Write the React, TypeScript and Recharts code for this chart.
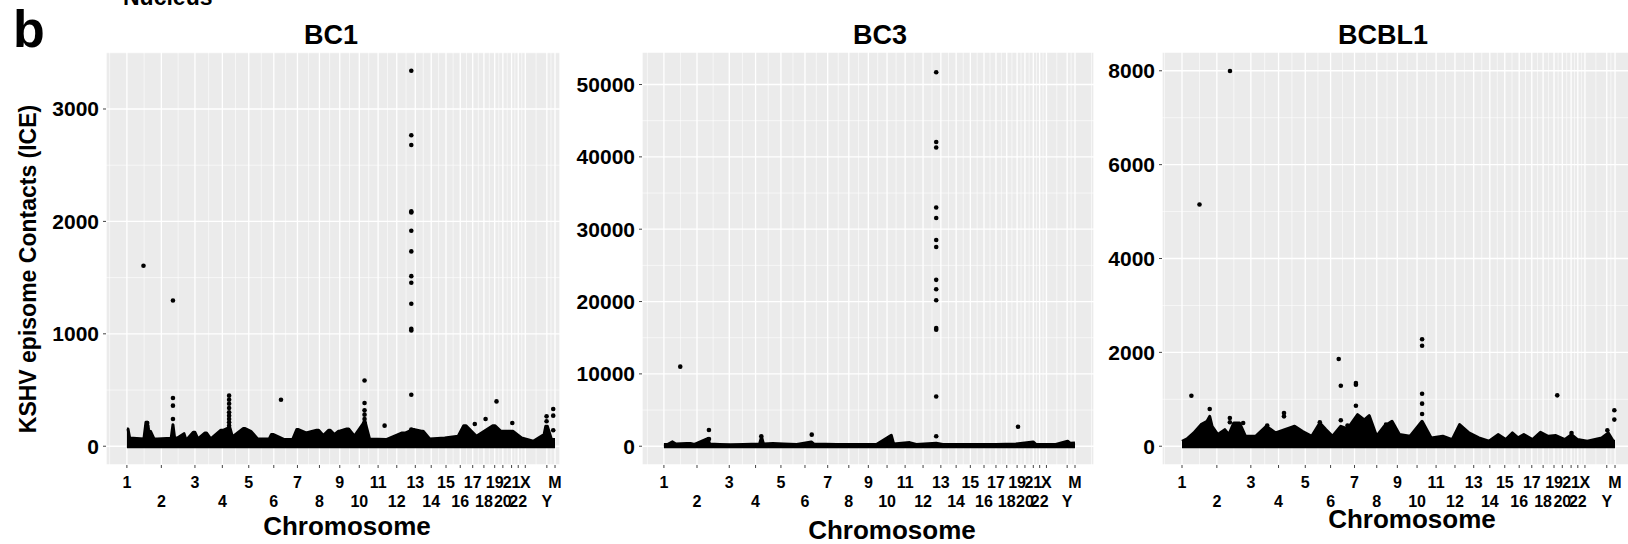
import React from "react";
import { ComposedChart, Area, Scatter, XAxis, YAxis, CartesianGrid } from "recharts";

// KSHV episome contacts along the human genome — three cell lines (BC1, BC3, BCBL1).

const FONT = '"Liberation Sans", Arial, Helvetica, sans-serif';

const chromNames = ["1", "2", "3", "4", "5", "6", "7", "8", "9", "10", "11", "12", "13", "14", "15", "16", "17", "18", "19", "20", "21", "22", "X", "Y", "M"];
// chromosome start, cumulative Mb (hg19)
const chromStarts = [0, 249, 492, 690, 881, 1062, 1233, 1392, 1539, 1680, 1816, 1951, 2085, 2200, 2307, 2410, 2500, 2581, 2659, 2718, 2781, 2829, 2880, 3036, 3095];

// BC1: top of the dense band of contacts, and the points standing out of it
const bc1BandPos = [0, 8, 20, 123, 138, 147, 160, 171, 196, 210, 220, 320, 333, 345, 365, 413, 425, 437, 480, 492, 510, 522, 565, 575, 606, 680, 695, 735, 745, 763, 840, 855, 896, 945, 1029, 1045, 1060, 1138, 1198, 1228, 1240, 1295, 1372, 1386, 1420, 1458, 1470, 1500, 1528, 1538, 1590, 1603, 1645, 1712, 1724, 1754, 1875, 1990, 2015, 2068, 2080, 2130, 2142, 2189, 2298, 2395, 2435, 2450, 2527, 2645, 2660, 2704, 2775, 2790, 2853, 2938, 3016, 3028, 3040, 3070, 3095];
const bc1BandTop = [154, 154, 74, 65, 213, 213, 118, 133, 65, 65, 65, 70, 192, 74, 74, 112, 65, 65, 124, 124, 74, 74, 118, 118, 65, 142, 142, 163, 163, 83, 157, 157, 133, 65, 65, 104, 104, 59, 59, 148, 148, 118, 142, 142, 95, 142, 142, 104, 133, 133, 154, 154, 89, 207, 207, 65, 59, 118, 118, 148, 148, 133, 133, 65, 74, 89, 183, 183, 89, 183, 183, 133, 133, 133, 74, 44, 104, 177, 177, 59, 59];
const bc1DotPos = [120, 147, 147, 147, 333, 333, 333, 333, 739, 739, 739, 739, 739, 739, 739, 739, 739, 1114, 1718, 1718, 1718, 1718, 1718, 1718, 1718, 1863, 2056, 2056, 2056, 2056, 2056, 2056, 2056, 2056, 2056, 2056, 2056, 2056, 2056, 2056, 2515, 2593, 2672, 2786, 3034, 3034, 3082, 3082, 3082];
const bc1DotVal = [1605, 207, 180, 160, 1297, 429, 361, 242, 450, 414, 378, 340, 302, 272, 242, 213, 183, 414, 585, 384, 319, 281, 242, 213, 183, 183, 3340, 2766, 2680, 2089, 2080, 1917, 1733, 1513, 1454, 1267, 1045, 1030, 458, 148, 198, 242, 399, 207, 266, 222, 331, 272, 142];

// BC3
const bc3BandPos = [0, 30, 65, 90, 170, 200, 230, 330, 345, 420, 500, 600, 720, 735, 750, 820, 900, 1000, 1110, 1130, 1300, 1450, 1600, 1712, 1730, 1850, 1900, 2050, 2100, 2300, 2500, 2650, 2780, 2800, 2950, 3040, 3060, 3095];
const bc3BandTop = [250, 250, 600, 300, 370, 370, 250, 1050, 300, 250, 200, 250, 300, 1290, 300, 370, 300, 250, 600, 300, 250, 250, 250, 1500, 300, 500, 250, 400, 250, 250, 250, 300, 600, 250, 250, 690, 400, 460];
const bc3DotPos = [123, 339, 339, 733, 1113, 2050, 2050, 2050, 2050, 2050, 2050, 2050, 2050, 2050, 2050, 2050, 2050, 2050, 2050, 2666];
const bc3DotVal = [11000, 2250, 1000, 1380, 1600, 51700, 42050, 41300, 33000, 31550, 28500, 27550, 23000, 21700, 20180, 16330, 16100, 6880, 1380, 2700];

// BCBL1
const bcbl1BandPos = [0, 36, 84, 136, 179, 198, 215, 256, 306, 335, 370, 411, 454, 526, 602, 669, 734, 770, 805, 860, 927, 985, 1028, 1076, 1135, 1183, 1255, 1303, 1338, 1391, 1446, 1501, 1554, 1630, 1716, 1781, 1864, 1931, 1984, 2051, 2122, 2194, 2259, 2314, 2361, 2402, 2443, 2505, 2562, 2617, 2672, 2737, 2784, 2827, 2897, 3000, 3047, 3083, 3095];
const bcbl1BandTop = [106, 156, 283, 460, 531, 637, 425, 248, 354, 248, 496, 496, 212, 212, 425, 283, 354, 390, 425, 319, 212, 496, 354, 212, 425, 368, 673, 560, 652, 212, 425, 531, 248, 212, 531, 177, 212, 142, 460, 283, 177, 106, 248, 142, 283, 177, 248, 142, 298, 212, 227, 142, 248, 142, 106, 177, 283, 106, 106];
const bcbl1DotPos = [67, 125, 198, 343, 342, 342, 437, 609, 729, 729, 985, 1120, 1135, 1135, 1183, 1243, 1243, 1243, 1458, 1716, 1716, 1716, 1716, 1716, 2682, 2784, 3040, 3090, 3090];
const bcbl1DotVal = [1077, 5150, 793, 7995, 602, 510, 496, 439, 708, 637, 510, 1860, 1289, 553, 439, 1345, 1310, 864, 460, 2280, 2140, 1119, 907, 687, 1084, 283, 340, 765, 567];

const bc1Ticks = [0, 1000, 2000, 3000];
const bc3Ticks = [0, 10000, 20000, 30000, 40000, 50000];
const bcbl1Ticks = [0, 2000, 4000, 6000, 8000];

const zip = (pos: number[], val: number[]) => pos.map((p, i) => ({ pos: p, value: val[i] }));

// ggplot-style minor breaks: halfway between majors, plus one on each side
const minorOf = (b: number[], lo: number, hi: number) => {
  const d = b[1] - b[0];
  const out = [b[0] - d / 2];
  for (let i = 0; i < b.length - 1; i++) out.push((b[i] + b[i + 1]) / 2);
  out.push(b[b.length - 1] + d / 2);
  return out.filter((v) => v > lo && v < hi);
};

const PLOT_TOP = 52;
const PLOT_H = 413;
const SPARE_R = 12; // room on the right so the last tick label is not cut

function Dot(props: any) {
  if (props.cx == null || props.cy == null) return null;
  return <circle cx={props.cx} cy={props.cy} r={2.3} fill="#000" />;
}

function ChromTick(props: any) {
  const { x, y, payload } = props;
  const idx = chromStarts.indexOf(payload.value);
  const low = idx % 2 === 1;
  return (
    <text x={x} y={y + (low ? 39 : 20)} textAnchor="middle" fontFamily={FONT} fontWeight={700} fontSize={16} fill="#000">
      {chromNames[idx]}
    </text>
  );
}

function Panel({
  left,
  width,
  axisW,
  xDomain,
  yMax,
  yTicks,
  band,
  dots,
  floor,
}: {
  left: number;
  width: number;
  axisW: number;
  xDomain: [number, number];
  yMax: number;
  yTicks: number[];
  band: { pos: number; value: number }[];
  dots: { pos: number; value: number }[];
  floor: number;
}) {
  const yDomain: [number, number] = [-0.05 * yMax, 1.05 * yMax];
  const xMinor = minorOf(chromStarts, xDomain[0], xDomain[1]);
  const yMinor = minorOf(yTicks, yDomain[0], yDomain[1]);
  return (
    <div style={{ position: "absolute", left: left - axisW, top: PLOT_TOP }}>
      <ComposedChart width={axisW + width + SPARE_R} height={PLOT_H + 80} margin={{ top: 0, right: SPARE_R, bottom: 0, left: 0 }}>
        <CartesianGrid fill="#EBEBEB" stroke="#ffffff" strokeWidth={0.6} horizontalValues={yMinor} verticalValues={xMinor} />
        <CartesianGrid stroke="#ffffff" strokeWidth={1.3} />
        <XAxis
          type="number"
          dataKey="pos"
          domain={xDomain}
          allowDataOverflow
          ticks={chromStarts}
          interval={0}
          tick={<ChromTick />}
          tickSize={3}
          tickMargin={0}
          tickLine={{ stroke: "#444" }}
          axisLine={false}
          height={80}
        />
        <YAxis
          type="number"
          dataKey="value"
          domain={yDomain}
          allowDataOverflow
          ticks={yTicks}
          interval={0}
          width={axisW}
          tickSize={3}
          tickMargin={4}
          tickLine={{ stroke: "#444" }}
          axisLine={false}
          tick={{ fill: "#000", fontSize: 21, fontWeight: 700, fontFamily: FONT }}
        />
        <Area
          data={band}
          dataKey="value"
          type="linear"
          stroke="#000"
          strokeWidth={3}
          strokeLinejoin="round"
          fill="#000"
          fillOpacity={1}
          baseValue={floor}
          dot={false}
          activeDot={false}
          isAnimationActive={false}
        />
        <Scatter data={dots} dataKey="value" shape={Dot} isAnimationActive={false} />
      </ComposedChart>
    </div>
  );
}

const txt = { fontFamily: FONT, fontWeight: 700, fill: "#000" } as const;

export default function App() {
  return (
    <div style={{ position: "absolute", left: 0, top: 0, width: 1628, height: 544, overflow: "hidden", background: "#fff" }}>
      <Panel left={106} width={454} axisW={80} xDomain={[-151, 3131]} yMax={3340} yTicks={bc1Ticks} band={zip(bc1BandPos, bc1BandTop)} dots={zip(bc1DotPos, bc1DotVal)} floor={-18} />
      <Panel left={642} width={452} axisW={75} xDomain={[-165, 3238]} yMax={51900} yTicks={bc3Ticks} band={zip(bc3BandPos, bc3BandTop)} dots={zip(bc3DotPos, bc3DotVal)} floor={-280} />
      <Panel left={1162} width={468} axisW={64} xDomain={[-143, 3202]} yMax={8000} yTicks={bcbl1Ticks} band={zip(bcbl1BandPos, bcbl1BandTop)} dots={zip(bcbl1DotPos, bcbl1DotVal)} floor={-45} />
      <svg width={1628} height={544} style={{ position: "absolute", left: 0, top: 0, pointerEvents: "none" }}>
        <text x={123} y={5} fontSize={23} {...txt}>Nucleus</text>
        <text x={13} y={47} fontSize={52} {...txt}>b</text>
        <text x={331} y={44} fontSize={27} textAnchor="middle" {...txt}>BC1</text>
        <text x={880} y={44} fontSize={27} textAnchor="middle" {...txt}>BC3</text>
        <text x={1383} y={44} fontSize={27} textAnchor="middle" {...txt}>BCBL1</text>
        <text x={347} y={535} fontSize={26} textAnchor="middle" {...txt}>Chromosome</text>
        <text x={892} y={539} fontSize={26} textAnchor="middle" {...txt}>Chromosome</text>
        <text x={1412} y={528} fontSize={26} textAnchor="middle" {...txt}>Chromosome</text>
        <text x={0} y={0} fontSize={23} textAnchor="middle" transform="translate(36 269) rotate(-90)" {...txt}>
          KSHV episome Contacts (ICE)
        </text>
      </svg>
    </div>
  );
}
